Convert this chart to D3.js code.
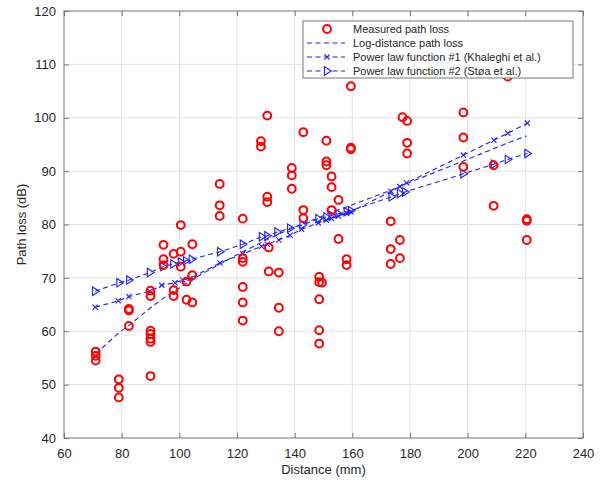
<!DOCTYPE html>
<html>
<head>
<meta charset="utf-8">
<script src="https://cdn.jsdelivr.net/npm/d3@7"></script>
<style>
  body { margin: 0; background: #fff; }
  svg text { font-family: "Liberation Sans", Arial, sans-serif; fill: #262626; }
</style>
</head>
<body>
<svg id="chart" width="607" height="480"></svg>
<script>
// measured path loss as [distance mm, loss dB]
const measured = [
  [71, 56.2], [71, 55.4], [71, 54.5],
  [79, 51.0], [79, 49.4], [79, 47.6],
  [82.5, 64.2], [82.5, 63.9], [82.5, 61.0],
  [90, 67.6], [90, 66.6], [90, 60.1], [90, 59.5], [90, 58.6], [90, 58.0], [90, 51.6],
  [94.5, 76.2], [94.5, 73.5], [94.5, 72.4],
  [98, 74.5], [98, 67.7], [98, 66.6],
  [100.5, 79.9], [100.5, 74.9], [100.5, 72.1],
  [102.5, 69.3], [102.5, 65.9],
  [104.5, 76.3], [104.5, 70.5], [104.5, 65.4],
  [114, 87.6], [114, 83.6], [114, 81.6],
  [122, 81.1], [122, 73.7], [122, 73.0], [122, 68.3], [122, 65.4], [122, 62.0],
  [128.3, 95.6], [128.3, 94.6],
  [130.5, 100.4], [130.5, 85.2], [130.5, 84.2], [131, 75.7], [131, 71.2],
  [134.5, 71.0], [134.5, 64.4], [134.5, 60.0],
  [139, 90.6], [139, 89.2], [139, 86.7],
  [143, 97.3], [143, 82.7], [143, 81.2],
  [148.5, 70.2], [148.5, 69.2], [149.5, 69.1], [148.5, 66.0], [148.5, 60.2], [148.5, 57.7],
  [151, 95.7], [151, 91.8], [151, 91.1],
  [152.8, 89.0], [152.8, 87.0], [152.8, 82.7],
  [155.2, 84.6], [155.2, 77.3],
  [158, 73.5], [158, 72.4],
  [159.5, 105.9], [159.5, 94.4], [159.5, 94.1],
  [173.3, 80.6], [173.3, 75.4], [173.3, 72.6],
  [176.5, 77.1], [176.5, 73.7],
  [177.4, 100.1],
  [179, 99.4], [179, 95.3], [179, 93.3],
  [198.5, 101.0], [198.5, 96.3], [198.5, 90.8],
  [209, 91.1], [209, 83.5],
  [213.9, 107.7],
  [220.5, 81.0], [220.5, 80.7], [220.5, 77.1]
];

// log-distance path loss model (plain dashed)
const logDistance = [
  [71, 55.8], [79, 59.7], [82.5, 61.1], [90, 64.4], [94.5, 66.2], [98, 67.4],
  [100.5, 68.3], [104.5, 69.7], [114, 72.6], [122, 74.9], [128.3, 76.6],
  [130.5, 77.2], [134.5, 78.2], [139, 79.3], [143, 80.2], [148.5, 81.3],
  [151, 81.9], [155, 82.7], [159.5, 83.6], [173.3, 86.4], [177.4, 87.3],
  [179, 87.7], [198.5, 91.9], [209, 94.2], [214, 95.3], [220.5, 96.6]
];

// power law #1 (Khaleghi et al.), x markers
const khaleghi = [
  [70.8, 64.5], [78.8, 65.7], [82.5, 66.5], [89.8, 67.5], [93.9, 68.6],
  [98.5, 69.1], [101.2, 69.6], [103.7, 69.9], [114.1, 72.8], [122, 74.5],
  [128.5, 75.9], [130.5, 76.3], [134.5, 77.1], [138.4, 78.0], [142.4, 79.1],
  [148.2, 80.3], [151, 80.8], [152.8, 81.1], [155.2, 81.6], [158, 82.1],
  [159.5, 82.4], [173.4, 86.2], [176.5, 87.1], [178.8, 87.8], [198.5, 93.0],
  [209.1, 95.8], [213.9, 97.1], [220.7, 99.0]
];

// power law #2 (Støa et al.), triangle markers
const stoa = [
  [70.8, 67.5], [79.2, 69.1], [82.6, 69.6], [89.8, 71.0], [94.4, 72.1],
  [97.9, 72.6], [100.5, 73.0], [102.3, 73.2], [104.3, 73.5], [114.1, 74.9],
  [122, 76.3], [128.6, 77.7], [130.5, 77.9], [134, 78.6], [138.4, 79.3],
  [142.7, 79.9], [148.2, 81.1], [151, 81.4], [152.8, 81.7], [155.2, 82.0],
  [158, 82.4], [159.5, 82.6], [173.6, 85.2], [176.5, 85.8], [178.3, 86.1],
  [198.5, 89.5], [209.1, 91.3], [213.9, 92.2], [220.7, 93.3]
];

const xTicks = [60, 80, 100, 120, 140, 160, 180, 200, 220, 240];
const yTicks = [40, 50, 60, 70, 80, 90, 100, 110, 120];
const legendLabels = [
  "Measured path loss",
  "Log-distance path loss",
  "Power law function #1 (Khaleghi et al.)",
  "Power law function #2 (Støa et al.)"
];

/* plot box in page pixels */
const box = { left: 64, right: 583, top: 11, bottom: 438 };
const axisColor = "#777";
const gridColor = "#e3e3e3";
const blue = "#1f1fff";
const red = "#ff0000";

const svg = d3.select("#chart");

const x = d3.scaleLinear().domain([60, 240]).range([box.left, box.right]);
const y = d3.scaleLinear().domain([40, 120]).range([box.bottom, box.top]);

// grid
const grid = svg.append("g").attr("class", "grid");
grid.selectAll(".gx")
  .data(xTicks.slice(1, -1))
  .join("line")
  .attr("x1", (d) => x(d)).attr("x2", (d) => x(d))
  .attr("y1", box.top).attr("y2", box.bottom)
  .attr("stroke", gridColor);
grid.selectAll(".gy")
  .data(yTicks.slice(1, -1))
  .join("line")
  .attr("y1", (d) => y(d)).attr("y2", (d) => y(d))
  .attr("x1", box.left).attr("x2", box.right)
  .attr("stroke", gridColor);

/* inward ticks on all four sides, labels on bottom & left only */
const drawAxis = function (axis, transform, showLabels) {
  const g = svg.append("g")
    .attr("transform", transform)
    .call(axis);
  g.select(".domain").remove();
  g.selectAll(".tick line").attr("stroke", axisColor);
  g.selectAll(".tick text")
    .style("font-size", "13px")
    .attr("fill", "#333");
  if (!showLabels) g.selectAll(".tick text").remove();
  return g;
};

drawAxis(
  d3.axisBottom(x).tickValues(xTicks).tickSize(-5).tickPadding(11).tickFormat(d3.format("d")),
  `translate(0,${box.bottom})`, true
);
drawAxis(
  d3.axisTop(x).tickValues(xTicks).tickSize(-5),
  `translate(0,${box.top})`, false
);
drawAxis(
  d3.axisLeft(y).tickValues(yTicks).tickSize(-5).tickPadding(8).tickFormat(d3.format("d")),
  `translate(${box.left},0)`, true
);
drawAxis(
  d3.axisRight(y).tickValues(yTicks).tickSize(-5),
  `translate(${box.right},0)`, false
);

// box
svg.append("rect")
  .attr("x", box.left).attr("y", box.top)
  .attr("width", box.right - box.left)
  .attr("height", box.bottom - box.top)
  .attr("fill", "none")
  .attr("stroke", axisColor)
  .attr("stroke-width", 1);

// axis titles
svg.append("text")
  .attr("x", (box.left + box.right) / 2)
  .attr("y", 474)
  .attr("text-anchor", "middle")
  .style("font-size", "13px")
  .text("Distance (mm)");
svg.append("text")
  .attr("transform", `translate(26,${(box.top + box.bottom) / 2}) rotate(-90)`)
  .attr("text-anchor", "middle")
  .style("font-size", "13px")
  .text("Path loss (dB)");

const line = d3.line().x((d) => x(d[0])).y((d) => y(d[1]));
const plot = svg.append("g").attr("class", "plot");

const triangle = (s) => `M${-s * 0.6},${-s} L${s},0 L${-s * 0.6},${s} Z`;
const cross = (s) => `M${-s},${-s} L${s},${s} M${-s},${s} L${s},${-s}`;

// dashed model lines
[logDistance, khaleghi, stoa].forEach((series) => {
  plot.append("path")
    .datum(series)
    .attr("d", line)
    .attr("fill", "none")
    .attr("stroke", blue)
    .attr("stroke-width", 1.1)
    .attr("stroke-dasharray", "5,3.5");
});

// markers
plot.append("g").selectAll("path")
  .data(khaleghi)
  .join("path")
  .attr("transform", (d) => `translate(${x(d[0])},${y(d[1])})`)
  .attr("d", cross(2.6))
  .attr("stroke", blue)
  .attr("stroke-width", 1.1)
  .attr("fill", "none");

plot.append("g").selectAll("path")
  .data(stoa)
  .join("path")
  .attr("transform", (d) => `translate(${x(d[0])},${y(d[1])})`)
  .attr("d", triangle(4.2))
  .attr("stroke", blue)
  .attr("stroke-width", 1.1)
  .attr("fill", "none");

plot.append("g").selectAll("circle")
  .data(measured)
  .join("circle")
  .attr("cx", (d) => x(d[0]))
  .attr("cy", (d) => y(d[1]))
  .attr("r", 3.9)
  .attr("fill", "none")
  .attr("stroke", red)
  .attr("stroke-width", 2);

// legend
const legend = svg.append("g").attr("transform", "translate(303,21)");
legend.append("rect")
  .attr("width", 270).attr("height", 57)
  .attr("fill", "#fff")
  .attr("stroke", axisColor);
const rowY = [8, 22, 36, 50];
legendLabels.forEach((label, i) => {
  const row = legend.append("g").attr("transform", `translate(0,${rowY[i]})`);
  if (i > 0) {
    row.append("line")
      .attr("x1", 4).attr("x2", 42)
      .attr("stroke", blue)
      .attr("stroke-width", 1.1)
      .attr("stroke-dasharray", "5,3.5");
  }
  if (i === 0) {
    row.append("circle").attr("cx", 24).attr("r", 3.9)
      .attr("fill", "none").attr("stroke", red).attr("stroke-width", 2);
  } else if (i === 2) {
    row.append("path").attr("transform", "translate(24,0)").attr("d", cross(2.6))
      .attr("stroke", blue).attr("stroke-width", 1.1).attr("fill", "none");
  } else if (i === 3) {
    row.append("path").attr("transform", "translate(24,0)").attr("d", triangle(4.2))
      .attr("stroke", blue).attr("stroke-width", 1.1).attr("fill", "#fff");
  }
  row.append("text")
    .attr("x", 50)
    .attr("dy", "0.35em")
    .style("font-size", "11px")
    .text(label);
});
</script>
</body>
</html>
